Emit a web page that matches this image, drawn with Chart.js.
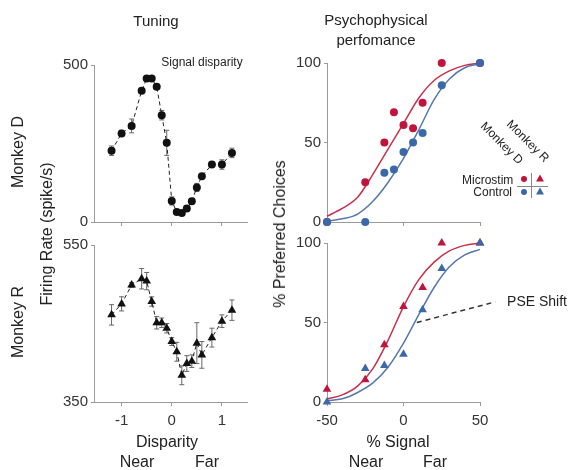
<!DOCTYPE html>
<html lang="en">
<head>
    <meta charset="utf-8">
    <title>Tuning and psychophysical performance</title>
    <script src="https://cdn.jsdelivr.net/npm/chart.js"></script>
    <style>
        body {
            margin: 0;
            padding: 0;
            background-color: #fff;
            font-family: 'Liberation Sans', Arial, sans-serif;
            color: #222;
        }
        .page {
            position: relative;
            width: 569px;
            height: 470px;
            overflow: hidden;
        }
        .page canvas {
            position: absolute;
            left: 0;
            top: 0;
        }
        .lbl {
            position: absolute;
            white-space: nowrap;
            transform: translate(-50%, -50%);
            line-height: 1;
        }
        .rot { transform: translate(-50%, -50%) rotate(-90deg); }
        .diag { transform: translate(-50%, -50%) rotate(45deg); font-size: 12px; }
        .mk { position: absolute; }
        .dot { width: 6px; height: 6px; border-radius: 50%; transform: translate(-50%, -50%); }
        .tri { width: 0; height: 0; border-left: 4px solid transparent; border-right: 4px solid transparent; transform: translate(-50%, -50%); }
    </style>
</head>
<body>
<div class="page">
    <canvas id="tuneD" width="569" height="470"></canvas>
    <canvas id="tuneR" width="569" height="470"></canvas>
    <canvas id="psyD" width="569" height="470"></canvas>
    <canvas id="psyR" width="569" height="470"></canvas>

    <!-- titles and axis texts -->
    <div class="lbl" style="left:156px; top:20px; font-size:15px;">Tuning</div>
    <div class="lbl" style="left:376px; top:30px; font-size:15px; text-align:center; line-height:20px;">Psychophysical<br>perfomance</div>
    <div class="lbl" style="left:202px; top:62px; font-size:12px;">Signal disparity</div>
    <div class="lbl rot" style="left:18px; top:152px; font-size:16px;">Monkey D</div>
    <div class="lbl rot" style="left:18px; top:322px; font-size:16px;">Monkey R</div>
    <div class="lbl rot" style="left:47px; top:234px; font-size:16px;">Firing Rate (spike/s)</div>
    <div class="lbl rot" style="left:280px; top:234px; font-size:16px;">% Preferred Choices</div>
    <div class="lbl" style="left:167px; top:442px; font-size:16px;">Disparity</div>
    <div class="lbl" style="left:137px; top:462px; font-size:16px;">Near</div>
    <div class="lbl" style="left:207px; top:462px; font-size:16px;">Far</div>
    <div class="lbl" style="left:398px; top:442px; font-size:16px;">% Signal</div>
    <div class="lbl" style="left:366px; top:462px; font-size:16px;">Near</div>
    <div class="lbl" style="left:435px; top:462px; font-size:16px;">Far</div>
    <div class="lbl" style="left:537px; top:301px; font-size:14px;">PSE Shift</div>

    <!-- legend -->
    <div class="lbl diag" style="left:502px; top:143px;">Monkey D</div>
    <div class="lbl diag" style="left:528px; top:141px;">Monkey R</div>
    <div class="lbl" style="left:487px; top:180px; font-size:12px; text-align:right; width:50px;">Microstim</div>
    <div class="lbl" style="left:487px; top:192px; font-size:12px; text-align:right; width:50px;">Control</div>
    <div class="mk" style="left:531px; top:173px; width:1px; height:25px; background:#888;"></div>
    <div class="mk" style="left:517px; top:186px; width:31px; height:1px; background:#888;"></div>
    <div class="mk dot" style="left:524px; top:179px; background:#c0143c;"></div>
    <div class="mk dot" style="left:524px; top:192px; background:#3a68a8;"></div>
    <div class="mk tri" style="left:540px; top:178px; border-bottom:7px solid #c0143c;"></div>
    <div class="mk tri" style="left:540px; top:191px; border-bottom:7px solid #3a68a8;"></div>
</div>

<script>
    // Tuning curves (firing rate vs disparity)
    const disparity = [-1.2, -1.0, -0.8, -0.6, -0.5, -0.4, -0.3, -0.2, -0.1, 0, 0.1, 0.2, 0.3, 0.4, 0.5, 0.6, 0.8, 1.0, 1.2];
    const rateD = [227, 282, 306, 418, 457, 457, 431, 340, 252, 67, 32, 29, 43, 66, 110, 146, 183, 183, 220];
    const errD = [15, 10, 22, 6, 5, 5, 6, 15, 40, 13, 5, 5, 8, 8, 13, 6, 6, 15, 15];
    const rateR = [461, 475, 499, 507, 504, 478, 451, 451, 444, 427, 414, 384, 399, 402, 425, 410, 432, 453, 467];
    const errR = [13, 9, 3, 13, 11, 6, 8, 6, 6, 5, 12, 12, 10, 8, 26, 17, 12, 8, 13];

    // Psychophysics (% preferred choices vs % signal)
    const signalD = [-50, -25, -12.5, -6.25, 0, 6.25, 12.5, 25, 50];
    const stimD = [0, 25, 50, 69, 61, 59, 75, 100, 100];
    const ctrlD = [0, 0, 31, 33, 44, 50, 56, 86, 100];
    const signalR = [-50, -25, -12.5, 0, 12.5, 25, 50];
    const stimR = [8, 14, 36, 60, 72, 100, 100];
    const ctrlR = [0, 21, 23, 30, 58, 84, 100];

    // fitted curves
    const fitX = [-50, -40, -30, -20, -10, 0, 10, 20, 30, 40, 50];
    const fitStimD = [3.6, 8.5, 15.5, 30, 46, 62, 78, 89, 95, 98.5, 100];
    const fitCtrlD = [0.5, 2, 5, 13, 25, 40, 58, 77, 90, 97, 99.5];
    const fitStimR = [2, 4.5, 10, 21, 39, 60, 77, 88, 95, 98.5, 100];
    const fitCtrlR = [0.8, 2, 6, 12, 22, 37, 55, 72, 85, 92.5, 96];
    const pseShift = [[8.7, 50], [60, 63]];

    // tick labels
    const ticksDisp = [-1, 0, 1];
    const ticksSignal = [-50, 0, 50];
    const ticksRateD = [0, 500];
    const ticksRateR = [350, 550];
    const ticksPct = [0, 50, 100];

    const RED = '#c0143c', BLUE = '#3a68a8';
    const RED_LINE = '#c8304a', BLUE_LINE = '#5579aa';
    const W = 569, H = 470, AX_W = 40, AX_H = 24;
    const FONT = { family: "'Liberation Sans', Arial, sans-serif", size: 15 };

    const pts = (xs, ys) => xs.map((x, i) => ({ x: x, y: ys[i] }));

    // vertical error bars for datasets that carry an "errors" array
    const errorBars = {
        id: 'errorBars',
        beforeDatasetsDraw(chart) {
            const ctx = chart.ctx, sx = chart.scales.x, sy = chart.scales.y;
            chart.data.datasets.forEach(ds => {
                if (!ds.errors) return;
                ctx.save();
                ctx.strokeStyle = '#666';
                ctx.lineWidth = 1;
                ds.data.forEach((p, i) => {
                    const x = sx.getPixelForValue(p.x);
                    const y1 = sy.getPixelForValue(p.y - ds.errors[i]);
                    const y2 = sy.getPixelForValue(p.y + ds.errors[i]);
                    ctx.beginPath();
                    ctx.moveTo(x, y1); ctx.lineTo(x, y2);
                    ctx.moveTo(x - 2.5, y1); ctx.lineTo(x + 2.5, y1);
                    ctx.moveTo(x - 2.5, y2); ctx.lineTo(x + 2.5, y2);
                    ctx.stroke();
                });
                ctx.restore();
            });
        }
    };

    function axis(min, max, ticks, showLabels, isX) {
        return {
            type: 'linear',
            min: min,
            max: max,
            afterBuildTicks: s => { s.ticks = ticks.map(v => ({ value: v })); },
            afterFit: s => { if (isX) s.height = AX_H; else s.width = AX_W; },
            border: { display: true, color: '#9a9a9a', width: 1 },
            grid: { drawOnChartArea: false, drawTicks: true, tickLength: isX ? 4 : 3, color: '#9a9a9a' },
            ticks: { display: showLabels, color: '#333', font: FONT, padding: isX ? 6 : 3, maxRotation: 0 }
        };
    }

    function options(area, x, y) {
        return {
            responsive: false,
            animation: false,
            devicePixelRatio: 1,
            layout: {
                autoPadding: false,
                padding: { left: area.left - AX_W, right: W - area.right, top: area.top, bottom: H - area.bottom - AX_H }
            },
            plugins: { legend: { display: false }, tooltip: { enabled: false } },
            scales: { x: x, y: y }
        };
    }

    function tuningSet(ys, errs, style, r) {
        return {
            data: pts(disparity, ys),
            errors: errs,
            borderColor: '#222',
            borderWidth: 1,
            borderDash: [4, 3],
            pointStyle: style,
            pointRadius: r,
            pointBackgroundColor: '#111',
            pointBorderColor: '#111',
            pointBorderWidth: 0,
            clip: false
        };
    }

    function markSet(xs, ys, color, style, r) {
        return {
            data: pts(xs, ys),
            showLine: false,
            pointStyle: style,
            pointRadius: r,
            pointBackgroundColor: color,
            pointBorderColor: color,
            pointBorderWidth: 0,
            clip: false
        };
    }

    function fitSet(ys, color) {
        return {
            data: pts(fitX, ys),
            borderColor: color,
            borderWidth: 1.5,
            pointRadius: 0,
            cubicInterpolationMode: 'monotone',
            clip: false
        };
    }

    // Monkey D tuning
    new Chart(document.getElementById('tuneD'), {
        type: 'line',
        data: { datasets: [tuningSet(rateD, errD, 'circle', 4)] },
        options: options({ left: 94, right: 247, top: 65, bottom: 222 },
            axis(-1.55, 1.5, ticksDisp, false, true), axis(0, 500, ticksRateD, true, false)),
        plugins: [errorBars]
    });

    // Monkey R tuning
    new Chart(document.getElementById('tuneR'), {
        type: 'line',
        data: { datasets: [tuningSet(rateR, errR, 'triangle', 5)] },
        options: options({ left: 94, right: 247, top: 245, bottom: 402 },
            axis(-1.55, 1.5, ticksDisp, true, true), axis(350, 550, ticksRateR, true, false)),
        plugins: [errorBars]
    });

    // Monkey D psychometric
    new Chart(document.getElementById('psyD'), {
        type: 'line',
        data: {
            datasets: [
                markSet(signalD, ctrlD, BLUE, 'circle', 4),
                markSet(signalD, stimD, RED, 'circle', 4),
                fitSet(fitCtrlD, BLUE_LINE),
                fitSet(fitStimD, RED_LINE)
            ]
        },
        options: options({ left: 327, right: 480, top: 63, bottom: 222 },
            axis(-50, 50, ticksSignal, false, true), axis(0, 100, ticksPct, true, false))
    });

    // Monkey R psychometric
    new Chart(document.getElementById('psyR'), {
        type: 'line',
        data: {
            datasets: [
                markSet(signalR, ctrlR, BLUE, 'triangle', 5),
                markSet(signalR, stimR, RED, 'triangle', 5),
                fitSet(fitCtrlR, BLUE_LINE),
                fitSet(fitStimR, RED_LINE),
                {
                    data: pseShift.map(p => ({ x: p[0], y: p[1] })),
                    borderColor: '#333',
                    borderWidth: 1.5,
                    borderDash: [5, 4],
                    pointRadius: 0,
                    clip: false
                }
            ]
        },
        options: options({ left: 327, right: 480, top: 243, bottom: 402 },
            axis(-50, 50, ticksSignal, true, true), axis(0, 100, ticksPct, true, false))
    });
</script>
</body>
</html>
